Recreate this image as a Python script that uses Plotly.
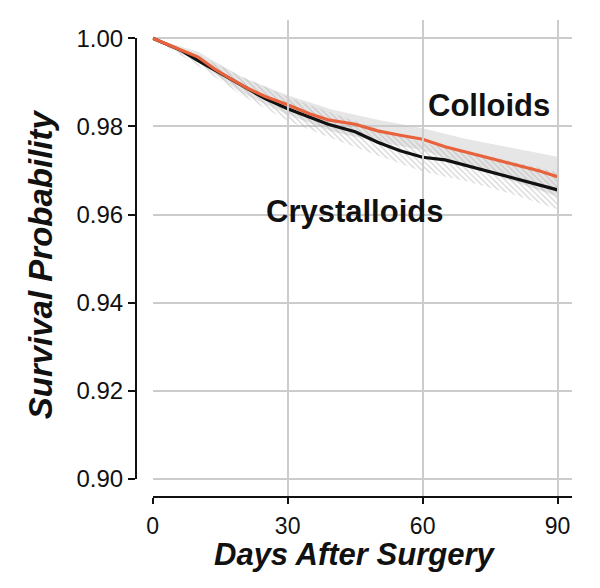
import plotly.graph_objects as go

# ---- data ----
days = [0, 3, 6.4, 10, 13.8, 17, 21.2, 25, 30, 35, 39, 45, 50, 55, 60, 65, 72, 79, 86, 90]
colloids = [1.000, 0.9988, 0.9973, 0.9958, 0.9930, 0.9910, 0.9886, 0.9868, 0.9849, 0.9828,
            0.9815, 0.9805, 0.9790, 0.9780, 0.9771, 0.9754, 0.9736, 0.9717, 0.9699, 0.9686]
crystalloids = [1.000, 0.9987, 0.9972, 0.9950, 0.9928, 0.9910, 0.9884, 0.9863, 0.9840, 0.9820,
                0.9805, 0.9788, 0.9764, 0.9745, 0.9730, 0.9724, 0.9705, 0.9686, 0.9668, 0.9656]

ci_days = [0, 10, 20, 30, 40, 50, 60, 70, 80, 90]
colloid_upper = [1.0, 0.9970, 0.9911, 0.9871, 0.9838, 0.9815, 0.9796, 0.9771, 0.9751, 0.9731]
colloid_lower = [1.0, 0.9946, 0.9875, 0.9827, 0.9788, 0.9765, 0.9746, 0.9711, 0.9677, 0.9641]
crystal_upper = [1.0, 0.9962, 0.9913, 0.9867, 0.9830, 0.9794, 0.9762, 0.9745, 0.9720, 0.9696]
crystal_lower = [1.0, 0.9938, 0.9869, 0.9813, 0.9772, 0.9734, 0.9698, 0.9675, 0.9646, 0.9612]

x_ticks = [0, 30, 60, 90]
y_ticks = [0.90, 0.92, 0.94, 0.96, 0.98, 1.00]
y_tick_text = ["0.90", "0.92", "0.94", "0.96", "0.98", "1.00"]

FONT = "Liberation Sans, Arial, Helvetica, sans-serif"
RED = "#e8623c"

fig = go.Figure()

# Colloid CI (solid light gray)
fig.add_trace(go.Scatter(x=ci_days, y=colloid_upper, mode="lines", line=dict(width=0),
                         showlegend=False, hoverinfo="skip"))
fig.add_trace(go.Scatter(x=ci_days, y=colloid_lower, mode="lines", line=dict(width=0),
                         fill="tonexty", fillcolor="rgba(200,200,200,0.45)",
                         showlegend=False, hoverinfo="skip"))
# Crystalloid CI (hatched)
fig.add_trace(go.Scatter(x=ci_days, y=crystal_upper, mode="lines", line=dict(width=0),
                         showlegend=False, hoverinfo="skip"))
fig.add_trace(go.Scatter(x=ci_days, y=crystal_lower, mode="lines", line=dict(width=0),
                         fill="tonexty", fillcolor="rgba(0,0,0,0)",
                         fillpattern=dict(shape="\\", fgcolor="#a8a8a8", bgcolor="rgba(0,0,0,0)",
                                          size=4, solidity=0.3),
                         showlegend=False, hoverinfo="skip"))

fig.add_trace(go.Scatter(x=days, y=crystalloids, mode="lines", name="Crystalloids",
                         line=dict(color="#111111", width=3.2), showlegend=False))
fig.add_trace(go.Scatter(x=days, y=colloids, mode="lines", name="Colloids",
                         line=dict(color=RED, width=3.2), showlegend=False))

# invisible trace to carry the detached y axis
fig.add_trace(go.Scatter(x=[0], y=[0.95], yaxis="y2", mode="markers",
                         marker=dict(opacity=0), showlegend=False, hoverinfo="skip"))

y_lo, y_hi = 0.89614, 1.00415
d_lo = (0.90 - y_lo) / (y_hi - y_lo)
d_hi = (1.00 - y_lo) / (y_hi - y_lo)

fig.update_layout(
    width=600, height=588,
    margin=dict(l=128, r=36, t=12, b=100),
    paper_bgcolor="white", plot_bgcolor="rgba(0,0,0,0)",
    font=dict(family=FONT, color="#111111"),
    xaxis=dict(domain=[0.0383, 1], range=[0, 93.2], tickvals=x_ticks,
               showgrid=True, gridcolor="#cccccc", gridwidth=1.5,
               showline=True, linecolor="#111111", linewidth=2,
               ticks="outside", ticklen=6, tickwidth=2, tickcolor="#111111",
               ticklabelstandoff=2, automargin=False,
               tickfont=dict(size=23, family=FONT), zeroline=False, anchor="y"),
    yaxis=dict(domain=[0, 1], range=[y_lo, y_hi], tickvals=y_ticks, automargin=False,
               showticklabels=False, ticks="", showgrid=True, gridcolor="#cccccc",
               gridwidth=1.5, showline=False, zeroline=False),
    yaxis2=dict(domain=[d_lo, d_hi], range=[0.90, 1.00], tickvals=y_ticks, ticktext=y_tick_text,
                anchor="free", position=0, showgrid=False, zeroline=False, automargin=False,
                showline=True, linecolor="#111111", linewidth=2,
                ticks="outside", ticklen=7, tickwidth=2, tickcolor="#111111",
                tickfont=dict(size=24, family=FONT)),
)

fig.add_annotation(x=74.7, y=0.98464, xref="x", yref="y", text="<b>Colloids</b>",
                   xanchor="center", yanchor="middle",
                   showarrow=False, font=dict(size=31, family=FONT, color="#111111"))
fig.add_annotation(x=44.96, y=0.96065, xref="x", yref="y", text="<b>Crystalloids</b>",
                   xanchor="center", yanchor="middle",
                   showarrow=False, font=dict(size=31, family=FONT, color="#111111"))
fig.add_annotation(x=-0.220, y=0.487, xref="paper", yref="paper", textangle=-90,
                   xanchor="center", yanchor="middle",
                   text="<b><i>Survival Probability</i></b>", showarrow=False,
                   font=dict(size=33, family=FONT, color="#111111"))
fig.add_annotation(x=0.502, y=-0.1235, xref="paper", yref="paper",
                   xanchor="center", yanchor="middle",
                   text="<b><i>Days After Surgery</i></b>", showarrow=False,
                   font=dict(size=31, family=FONT, color="#111111"))

fig.write_html("out.html")
